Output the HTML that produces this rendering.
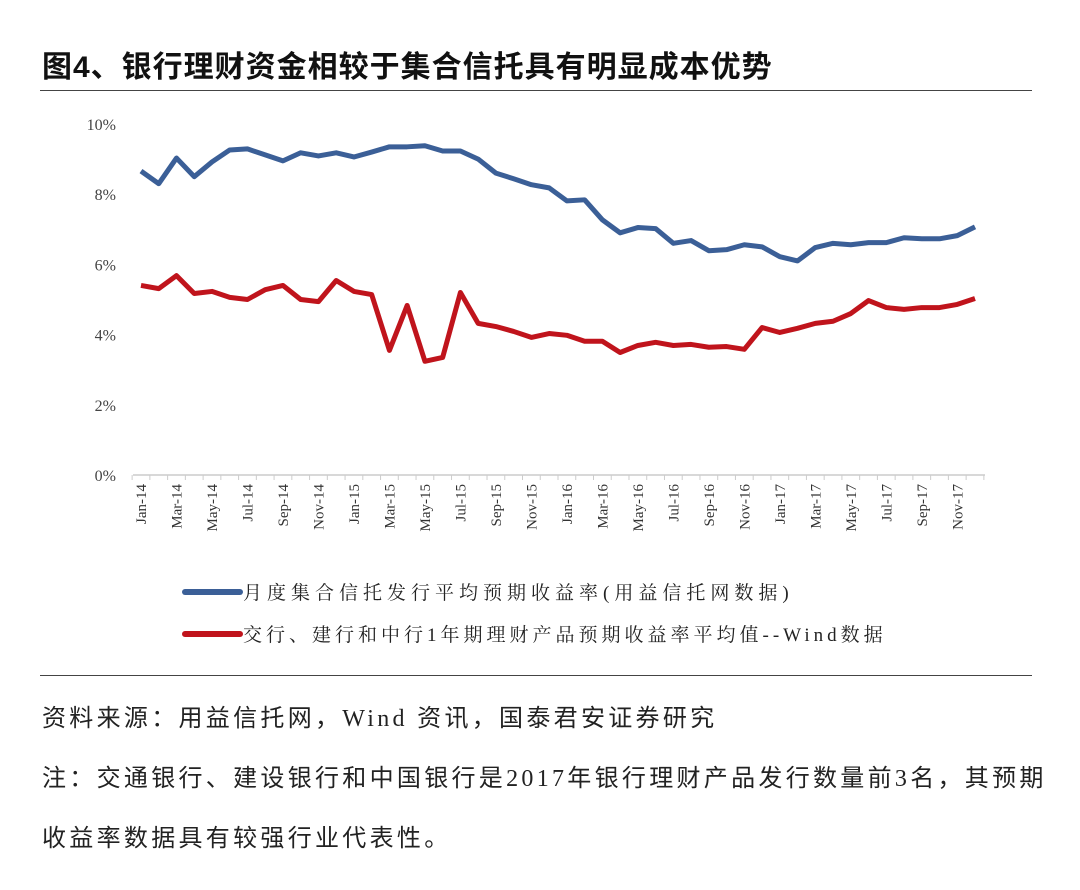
<!DOCTYPE html>
<html><head><meta charset="utf-8"><style>
body{margin:0;background:#fff;width:1080px;height:890px;overflow:hidden;font-family:"Liberation Sans","Noto Sans CJK SC",sans-serif}
.t{position:absolute;left:42px;top:42px;font-size:30px;font-weight:bold;color:#111;letter-spacing:1px}
.hr{position:absolute;left:40px;width:992px;height:1px;background:#444}
.p{position:absolute;left:42px;font-size:24px;color:#222;letter-spacing:3.3px;font-family:"Liberation Serif","Noto Sans CJK SC",sans-serif;white-space:nowrap}
</style></head><body>
<div class="t">图4、银行理财资金相较于集合信托具有明显成本优势</div>
<div class="hr" style="top:90px"></div>
<svg id="c" width="1080" height="670" style="position:absolute;left:0;top:0"></svg>
<div class="hr" style="top:675px"></div>
<div class="p" style="top:698px">资料来源：用益信托网，Wind 资讯，国泰君安证券研究</div>
<div class="p" style="top:758px">注：交通银行、建设银行和中国银行是2017年银行理财产品发行数量前3名，其预期</div>
<div class="p" style="top:818px">收益率数据具有较强行业代表性。</div>
<script>
const months=["Jan","Feb","Mar","Apr","May","Jun","Jul","Aug","Sep","Oct","Nov","Dec"];
const years=["14","15","16","17"];
const trustYield=[8.66,8.3,9.03,8.5,8.92,9.26,9.29,9.12,8.95,9.18,9.09,9.18,9.06,9.2,9.35,9.35,9.38,9.23,9.23,9.0,8.6,8.44,8.27,8.18,7.81,7.84,7.27,6.9,7.05,7.02,6.6,6.68,6.39,6.42,6.56,6.5,6.22,6.1,6.48,6.6,6.56,6.62,6.62,6.76,6.73,6.73,6.82,7.07];
const bankYield=[5.4,5.31,5.68,5.17,5.23,5.06,5.0,5.28,5.4,5.0,4.94,5.54,5.23,5.14,3.55,4.83,3.24,3.35,5.2,4.32,4.23,4.09,3.92,4.03,3.98,3.81,3.81,3.49,3.69,3.78,3.69,3.72,3.64,3.66,3.58,4.2,4.06,4.18,4.32,4.38,4.6,4.97,4.77,4.72,4.77,4.77,4.86,5.03];
const yTicks=[0,2,4,6,8,10];
const cats=[];years.forEach(y=>months.forEach(m=>cats.push(m+"-"+y)));
const NS="http://www.w3.org/2000/svg",svg=document.getElementById("c");
const x0=141,dx=(975-141)/47,y0=475,ky=35.1;
const X=i=>x0+i*dx,Y=v=>y0-v*ky;
function mk(t,a){const e=document.createElementNS(NS,t);for(const k in a)e.setAttribute(k,a[k]);svg.appendChild(e);return e;}
yTicks.forEach(v=>{const e=mk("text",{x:116,y:Y(v)+6,"text-anchor":"end","font-size":"16","font-family":"Liberation Serif,serif",fill:"#444"});e.textContent=v+"%";

});
const ax=mk("line",{x1:133,x2:985,y1:y0,y2:y0,stroke:"#ccc","stroke-width":1.5});


for(let i=0;i<=48;i++){const t=mk("line",{x1:X(i)-dx/2,x2:X(i)-dx/2,y1:y0,y2:y0+5,stroke:"#ccc"});

}
cats.forEach((c,i)=>{if(i%2)return;const e=mk("text",{transform:`translate(${X(i)+5},484) rotate(-90)`,"text-anchor":"end","font-size":"15","font-family":"Liberation Serif,serif",fill:"#333"});e.textContent=c;

});
function line(d,col,name){const p=mk("polyline",{points:d.map((v,i)=>X(i)+","+Y(v)).join(" "),fill:"none",stroke:col,"stroke-width":5,"stroke-linejoin":"round"});

}
line(trustYield,"#3b5f97","trust-yield-line");
line(bankYield,"#c0141c","bank-yield-line");
[[592,"#3b5f97","月度集合信托发行平均预期收益率(用益信托网数据)","legend-trust",5],[634,"#c0141c","交行、建行和中行1年期理财产品预期收益率平均值--Wind数据","legend-bank",4]].forEach(([y,c,t,n,ls])=>{
const l=mk("line",{x1:185,x2:240,y1:y,y2:y,stroke:c,"stroke-width":6,"stroke-linecap":"round"});


const e=mk("text",{x:243,y:y+7,"font-size":"19","font-family":"Liberation Serif,Noto Serif CJK SC,serif",fill:"#222","letter-spacing":ls});e.textContent=t;

});
</script>
</body></html>
